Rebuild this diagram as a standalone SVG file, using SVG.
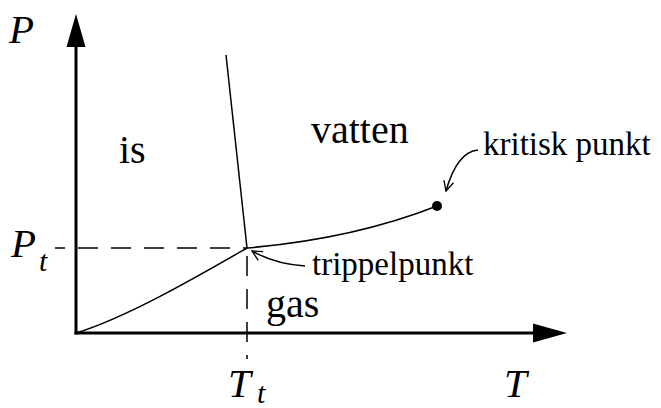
<svg xmlns="http://www.w3.org/2000/svg" width="661" height="408" viewBox="0 0 661 408">
<style>
.lbl{font-family:'Liberation Serif','Times New Roman',Times,'DejaVu Serif',serif;fill:#000}
.it{font-style:italic}
.ax{stroke:#000;stroke-width:3;fill:none}
.cv{stroke:#000;stroke-width:1.5;fill:none}
.ds{stroke:#000;stroke-width:1.5;fill:none;stroke-dasharray:20 13}
</style>
<defs>
<marker id="open" viewBox="0 0 12 12" refX="11" refY="6" markerWidth="12" markerHeight="12" markerUnits="userSpaceOnUse" orient="auto">
<path d="M1,1 L11,6 L1,11" fill="none" stroke="#000" stroke-width="1.3"/>
</marker>
</defs>
<rect width="661" height="408" fill="#fff"/>
<g id="axes">
<line class="ax" x1="76" y1="334.5" x2="76" y2="45"/>
<polygon points="76,14 66.5,47 85.5,47" fill="#000"/>
<line class="ax" x1="74.5" y1="333" x2="535" y2="333"/>
<polygon points="567,333 533,323.5 533,342.5" fill="#000"/>
</g>
<g id="connectors">
<line class="ds" x1="55" y1="248" x2="247" y2="248" style="stroke-dashoffset:10"/>
<line class="ds" x1="247" y1="256" x2="247" y2="359"/>
<path class="cv" d="M226,55 Q236,150 247,248"/>
<path class="cv" d="M76,333 C128,317 200,275 247,248"/>
<path class="cv" d="M247,248 Q353,239 437,206"/>
<path class="cv" d="M305,266 Q275,264 252,251" marker-end="url(#open)"/>
<path class="cv" d="M478,150 Q457,152 446,191" marker-end="url(#open)"/>
</g>
<g id="kritisk-punkt-dot"><circle cx="437" cy="206" r="5" fill="#000"/></g>
<g id="labels">
<text class="lbl it" x="9" y="43" font-size="41">P</text>
<text class="lbl it" x="11" y="257" font-size="41">P</text>
<text class="lbl it" x="39" y="271" font-size="30">t</text>
<text class="lbl it" x="228" y="397" font-size="41">T</text>
<text class="lbl it" x="257" y="403" font-size="30">t</text>
<text class="lbl it" x="504" y="397" font-size="41">T</text>
<text class="lbl" x="119" y="163" font-size="40">is</text>
<text class="lbl" x="311" y="143" font-size="40">vatten</text>
<text class="lbl" x="266" y="317" font-size="40">gas</text>
<text class="lbl" x="312" y="275" font-size="33">trippelpunkt</text>
<text class="lbl" x="483" y="155" font-size="33">kritisk punkt</text>
</g>
</svg>
